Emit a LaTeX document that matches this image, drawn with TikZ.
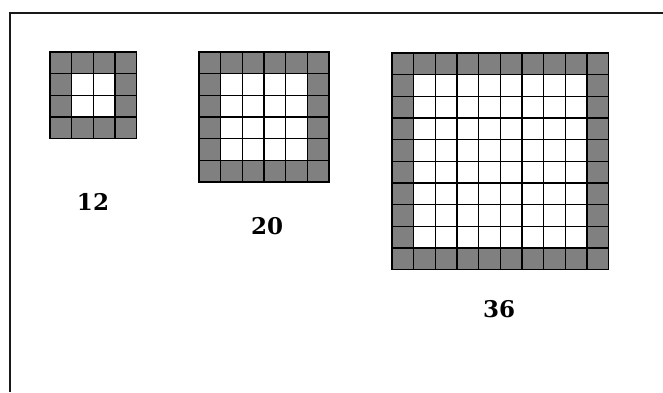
\documentclass[tikz,border=0pt]{standalone}
\usepackage{fontspec}
\setmainfont{DejaVu Serif}
\definecolor{bordergray}{RGB}{128,128,128}
\newcommand\cellsz{21.65}
\newcommand\squaregrid[3]{%
\begin{scope}[shift={(#1,#2)}]
\pgfmathsetmacro\gs{#3*\cellsz}
\pgfmathsetmacro\gi{(#3-1)*\cellsz}
\fill[bordergray] (0,0) rectangle (\gs,\gs);
\fill[white] (\cellsz,\cellsz) rectangle (\gi,\gi);
\foreach \k in {0,...,#3} {
  \draw[gridline] (\k*\cellsz,0) -- (\k*\cellsz,\gs);
  \draw[gridline] (0,\k*\cellsz) -- (\gs,\k*\cellsz);
}
\end{scope}}
\begin{document}
\begin{tikzpicture}[x=1pt,y=-1pt,
  gridline/.style={draw=black,line width=1.3pt,line cap=rect},
  framestyle/.style={draw=black!90,line width=2pt},
  countlabel/.style={font=\fontsize{23}{26}\selectfont\bfseries,inner sep=0pt}]
\useasboundingbox (0,0) rectangle (663,392);
\draw[framestyle] (10,392) -- (10,13) -- (663,13);
\squaregrid{50}{52}{4}
\squaregrid{199}{52}{6}
\squaregrid{392}{53}{10}
\node[countlabel] (l12) at (93,202) {12};
\node[countlabel] (l20) at (267,226) {20};
\node[countlabel] (l36) at (499,309) {36};
\end{tikzpicture}
\end{document}
